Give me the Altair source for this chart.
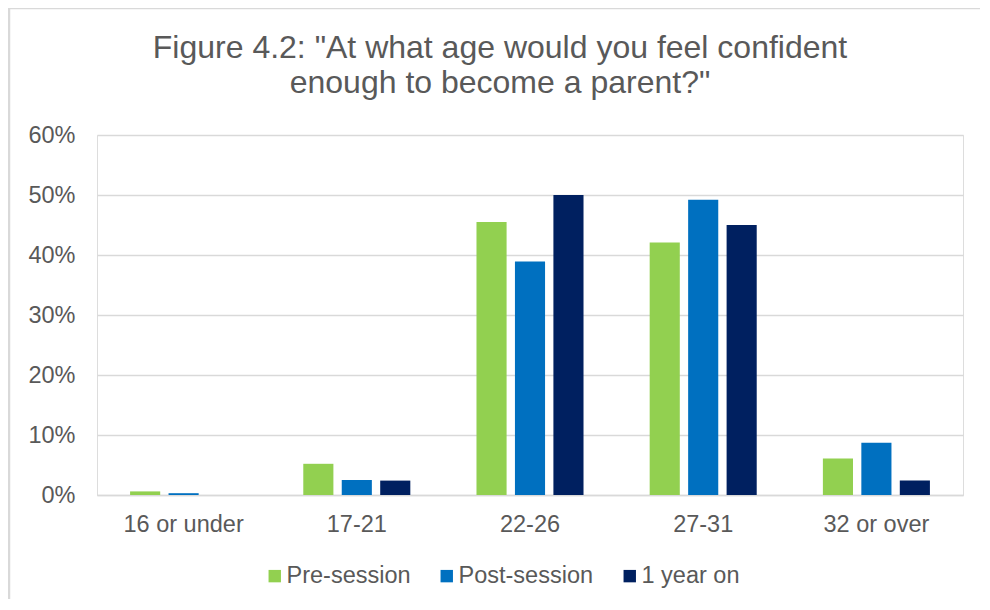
import altair as alt
import pandas as pd

categories = ["16 or under", "17-21", "22-26", "27-31", "32 or over"]
series = ["Pre-session", "Post-session", "1 year on"]
pre_session = [0.006, 0.052, 0.455, 0.421, 0.061]
post_session = [0.003, 0.025, 0.389, 0.492, 0.087]
one_year_on = [0.0, 0.024, 0.500, 0.450, 0.024]
colors = ["#92D050", "#0070C0", "#002060"]
y_ticks = [0, 0.1, 0.2, 0.3, 0.4, 0.5, 0.6]
title_lines = ['Figure 4.2: "At what age would you feel confident',
               'enough to become a parent?"']

rows = []
for name, vals in zip(series, [pre_session, post_session, one_year_on]):
    for c, v in zip(categories, vals):
        rows.append({"category": c, "series": name, "value": v})
df = pd.DataFrame(rows)

FONT = "Liberation Sans"
TXT = "#595959"
GRID = "#d9d9d9"

bars = alt.Chart(df).mark_bar().encode(
    x=alt.X("category:N", sort=categories, title=None,
            scale=alt.Scale(paddingInner=0.382, paddingOuter=0.191),
            axis=alt.Axis(labelAngle=0, labelFontSize=23.5, labelColor=TXT, labelFont=FONT,
                          labelPadding=17, ticks=False, domainColor=GRID, domainWidth=1.5,
                          grid=False)),
    xOffset=alt.XOffset("series:N", sort=series,
                        scale=alt.Scale(paddingInner=0.217, paddingOuter=0)),
    y=alt.Y("value:Q", title=None,
            scale=alt.Scale(domain=[0, 0.6], nice=False),
            axis=alt.Axis(values=y_ticks, format=".0%", labelFontSize=23.5, labelColor=TXT,
                          labelFont=FONT, labelPadding=22, ticks=False, domain=False,
                          gridColor=GRID, gridWidth=1.5)),
    color=alt.Color("series:N", sort=series,
                    scale=alt.Scale(domain=series, range=colors),
                    legend=alt.Legend(title=None, orient="none", direction="horizontal",
                                      legendX=166, legendY=429,
                                      symbolType="square", symbolSize=154,
                                      symbolStrokeWidth=0, labelFontSize=23.5,
                                      labelColor=TXT, labelFont=FONT, labelOffset=0,
                                      columnPadding=24)),
)

border = alt.Chart(alt.Data(values=[{}])).mark_rule(color=GRID, strokeWidth=2.5).encode(
    x=alt.value(-88), x2=alt.value(-88), y=alt.value(-127), y2=alt.value(480)
)
border_top = alt.Chart(alt.Data(values=[{}])).mark_rule(color=GRID, strokeWidth=2.5).encode(
    x=alt.value(-89), x2=alt.value(891), y=alt.value(-127), y2=alt.value(-127)
)

title1 = alt.Chart(alt.Data(values=[{"t": title_lines[0]}])).mark_text(
    font=FONT, fontSize=32, color=TXT, align="center", baseline="middle"
).encode(text="t:N", x=alt.value(403), y=alt.value(-87))
title2 = alt.Chart(alt.Data(values=[{"t": title_lines[1]}])).mark_text(
    font=FONT, fontSize=32, color=TXT, align="center", baseline="middle"
).encode(text="t:N", x=alt.value(403), y=alt.value(-52))

chart = alt.layer(border, border_top, title1, title2, bars).properties(
    width=866,
    height=360,
    padding={"left": 89, "top": 127, "right": 17, "bottom": 104},
    autosize=alt.AutoSizeParams(type="none"),
).configure_view(stroke=None).configure(background="white")

chart.save("out.html", embed_options={"renderer": "svg", "actions": False})
